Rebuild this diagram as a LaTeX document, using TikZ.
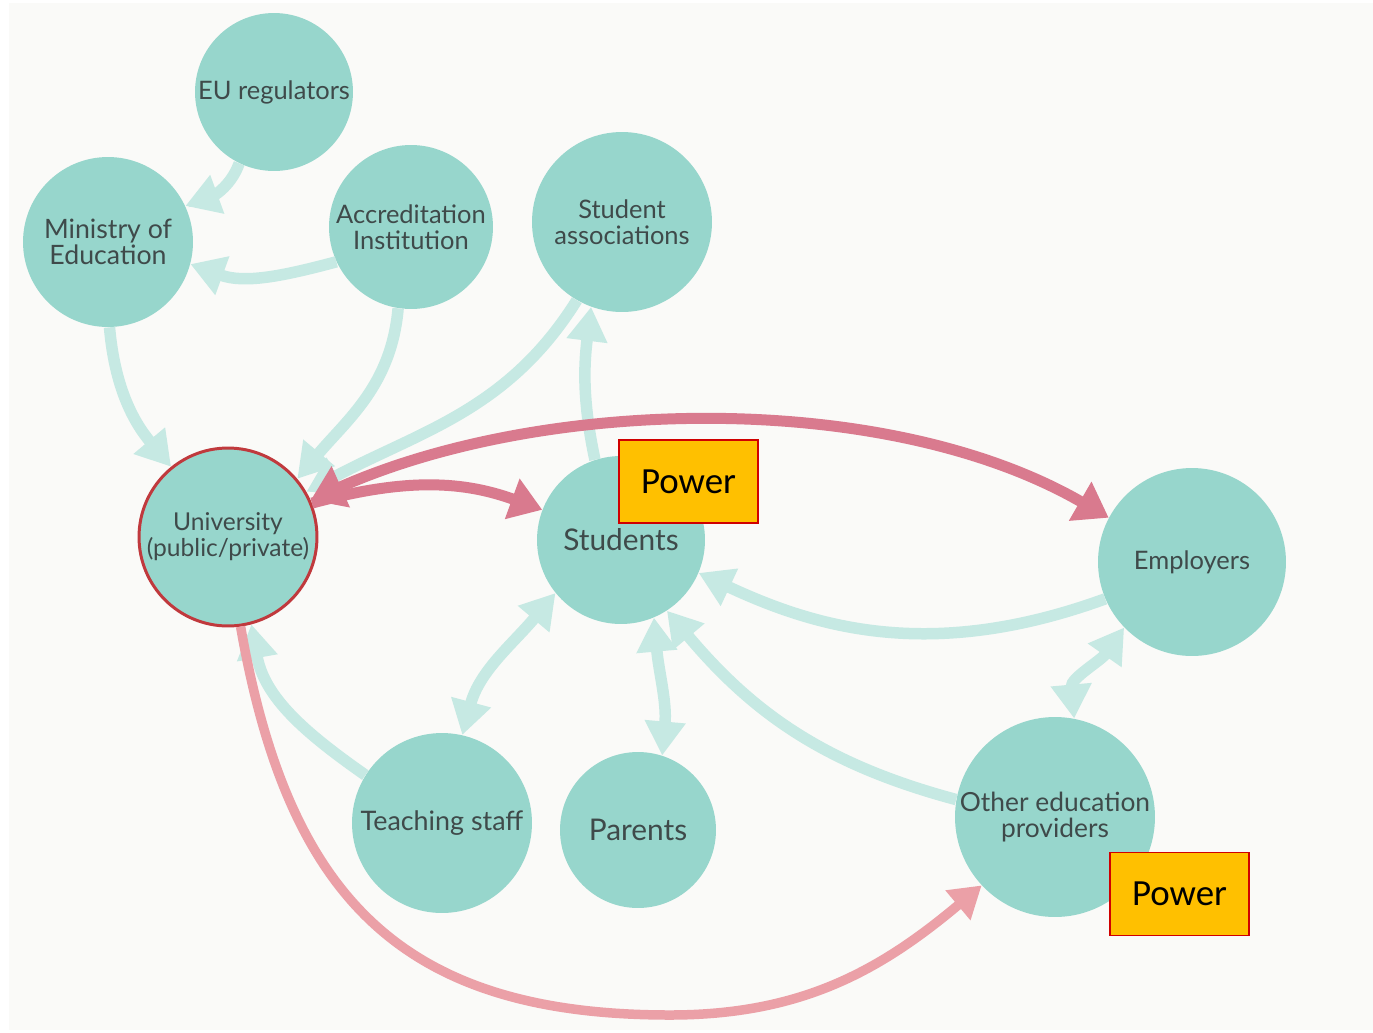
\documentclass[tikz,border=0pt]{standalone}
\usepackage{fontspec}
\setmainfont{Lato}
\newfontfamily\carlito{Carlito}
\usetikzlibrary{arrows.meta}
\definecolor{bgc}{HTML}{FAFAF8}
\definecolor{nodefill}{HTML}{97D6CC}
\definecolor{tealln}{HTML}{C6E9E3}
\definecolor{redln}{HTML}{D97A8E}
\definecolor{pinkln}{HTML}{EBA0A7}
\definecolor{uniborder}{HTML}{C0393D}
\definecolor{txt}{HTML}{3F4A4A}
\definecolor{powerfill}{HTML}{FFC000}
\definecolor{powerborder}{HTML}{D00000}
\begin{document}
\begin{tikzpicture}[x=0.02cm,y=-0.02cm,
  stake/.style={circle, fill=nodefill, inner sep=0pt, align=center, text=txt,
    font=\fontsize{14.5}{14.8}\selectfont},
  tealarrow/.style={draw=tealln, line width=0.23cm, -{Triangle[width=0.78cm,length=0.68cm]}},
  tealboth/.style={draw=tealln, line width=0.23cm, {Triangle[width=0.78cm,length=0.68cm]}-{Triangle[width=0.78cm,length=0.68cm]}},
  redarrow/.style={draw=redln, line width=0.22cm, -{Triangle[width=0.82cm,length=0.64cm]}},
  redboth/.style={draw=redln, line width=0.22cm, {Triangle[width=0.86cm,length=0.66cm]}-{Triangle[width=0.86cm,length=0.66cm]}},
  pinkarrow/.style={draw=pinkln, line width=0.19cm, -{Triangle[width=0.74cm,length=0.62cm]}},
  powerbox/.style={draw=powerborder, fill=powerfill, line width=1.1pt,
    minimum width=2.78cm, minimum height=1.66cm, inner sep=0pt,
    font=\carlito\fontsize{21}{25}\selectfont}
]
\useasboundingbox (0,0) rectangle (1373,1032);
\fill[white] (0,0) rectangle (1373,1032);
\fill[bgc] (9,3) rectangle (1373,1030);

% stakeholders
\node[stake, minimum size=3.16cm] (eu)  at (274,92)  {EU regulators};
\node[stake, minimum size=3.40cm, font=\fontsize{15.2}{15.2}\selectfont] (min) at (108,242) {Ministry of\\Education};
\node[stake, minimum size=3.28cm] (acc) at (411,227) {Accreditation\\Institution};
\node[stake, minimum size=3.60cm] (sa)  at (622,222) {Student\\associations};
\node[stake, minimum size=3.56cm, draw=uniborder, line width=1.7pt, font=\fontsize{14}{14.8}\selectfont] (uni) at (228,537) {University\\(public/private)};
\node[stake, minimum size=3.36cm, font=\fontsize{17}{17}\selectfont] (st)  at (621,540) {Students};
\node[stake, minimum size=3.76cm] (emp) at (1192,562) {Employers};
\node[stake, minimum size=3.60cm, font=\fontsize{15.3}{15.3}\selectfont] (ts)  at (442,823) {Teaching staff};
\node[stake, minimum size=3.12cm, font=\fontsize{17}{17}\selectfont] (pa)  at (638,830) {Parents};
\node[stake, minimum size=4.00cm, font=\fontsize{15}{14.8}\selectfont] (oe)  at (1055,817) {Other education\\providers};

% teal connectors
\draw[tealarrow] (eu.244) to[out=250,in=20] (min.25);
\draw[tealarrow] (acc.205) to[out=195,in=-20] (min.-15);
\draw[tealarrow] (min.-89) to[out=-85,in=130] (uni.129);
\draw[tealarrow] (acc.-99) to[out=-95,in=50] (uni.40);
\draw[tealarrow] (sa.-120) to[out=238,in=28] (uni.30);
\draw[tealarrow] (st.108) to[out=102,in=-97] (sa.-110);
\draw[tealboth] (ts.77) to[out=75,in=-130] (st.-141);
\draw[tealboth] (pa.72) to[out=85,in=-85] (st.-67);
\draw[tealarrow] (emp.203) to[out=200,in=-25,out distance=3.7cm,in distance=2.6cm] (st.-23);
\draw[tealarrow] (oe.170) to[out=165,in=-50] (st.-57);
\draw[tealarrow] (ts.148) to[out=145,in=-80] (uni.-75);
\draw[tealboth] (oe.79) to[out=95,in=-125] (emp.-136);

% red connectors
\coordinate (low) at (670,1015);
\draw[pinkarrow] (uni.-82) to[out=-80,in=180,looseness=1.2] (low) to[out=0,in=220] (oe.-137);
\draw[redarrow] (uni.22) to[out=15,in=160] (st.159);
\draw[redboth] (uni.24) to[out=24,in=150,looseness=0.82] (emp.152);

% power labels
\node[powerbox] (p1) at (688.5,481.5) {Power};
\node[powerbox] (p2) at (1179.5,894) {Power};
\end{tikzpicture}
\end{document}
